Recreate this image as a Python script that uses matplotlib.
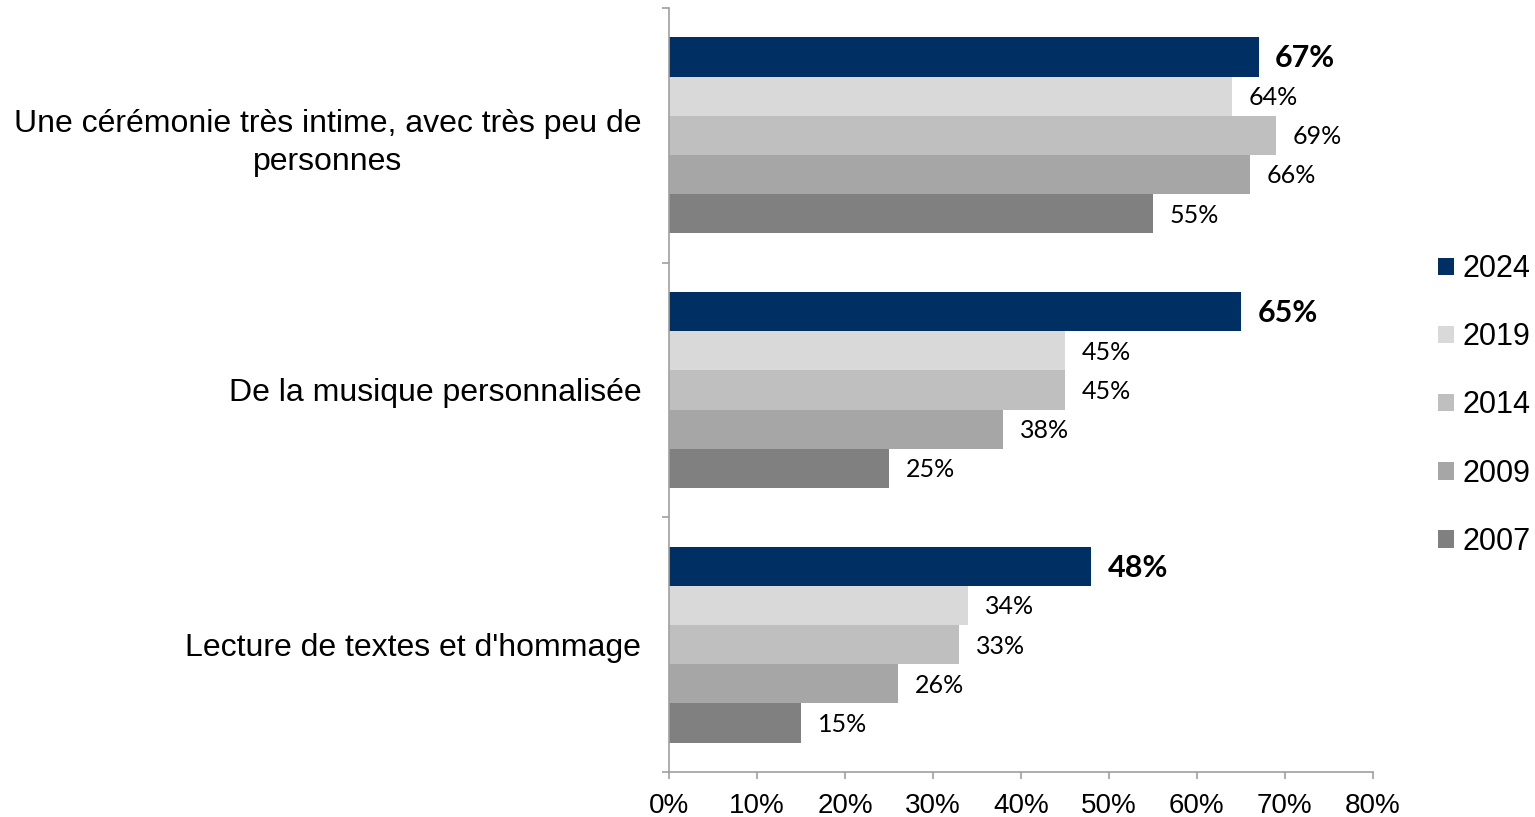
import numpy as np
import matplotlib.pyplot as plt
from matplotlib.patches import Patch

categories = ["Une cérémonie très intime, avec très peu de\npersonnes",
              "De la musique personnalisée",
              "Lecture de textes et d'hommage"]
years = ["2024", "2019", "2014", "2009", "2007"]
values = {
    "2024": [67, 65, 48],
    "2019": [64, 45, 34],
    "2014": [69, 45, 33],
    "2009": [66, 38, 26],
    "2007": [55, 25, 15],
}
colors = ["#003063", "#D9D9D9", "#BFBFBF", "#A6A6A6", "#808080"]
xticks = np.arange(0, 81, 10)

plt.rcParams.update({"font.family": ["Liberation Sans", "DejaVu Sans"]})

fig = plt.figure(figsize=(15.35, 8.17), dpi=100)
ax = fig.add_axes([0.4358, 0.0551, 0.4586, 0.9351])

h = 0.154
y0 = np.arange(len(categories)) + 0.5
for i, (yr, c) in enumerate(zip(years, colors)):
    y = y0 + (i - 2) * h
    bars = ax.barh(y, values[yr], height=h, color=c, linewidth=0)
    bold = yr == "2024"
    for b, v in zip(bars, values[yr]):
        ax.annotate(f"{v}%", (b.get_width(), b.get_y() + b.get_height() / 2),
                    xytext=(12, -1), textcoords="offset points", va="center", ha="left",
                    family=["Lato", "DejaVu Sans"], fontsize=22 if bold else 18,
                    fontweight="bold" if bold else "normal", color="black")

ax.set_xlim(0, 80)
ax.set_ylim(3, 0)
ax.set_xticks(xticks)
ax.set_xticklabels([f"{t}%" for t in xticks], fontsize=20)
ax.set_yticks([0, 1, 2, 3])
ax.set_yticklabels([])
ax.set_yticks(y0, minor=True)
ax.set_yticklabels(categories, minor=True, fontsize=23)
for t in ax.get_yticklabels(minor=True):
    t.set_multialignment("center")
    t.set_linespacing(1.35)
ax.tick_params(axis="y", which="minor", length=0, pad=20)
ax.tick_params(axis="both", which="major", length=5, color="#A0A0A0", width=1.2)
ax.tick_params(axis="x", pad=10)
for s in ["top", "right"]:
    ax.spines[s].set_visible(False)
for s in ["left", "bottom"]:
    ax.spines[s].set_color("#A0A0A0")
    ax.spines[s].set_linewidth(1.2)

handles = [Patch(facecolor=c, label=yr) for yr, c in zip(years, colors)]
fig.legend(handles=handles, loc="center left", bbox_to_anchor=(0.937, 0.5037),
           frameon=False, fontsize=22, borderpad=0, handlelength=0.5, handleheight=0.5,
           handletextpad=0.3, labelspacing=1.25, borderaxespad=0)

fig.savefig("out.png")
